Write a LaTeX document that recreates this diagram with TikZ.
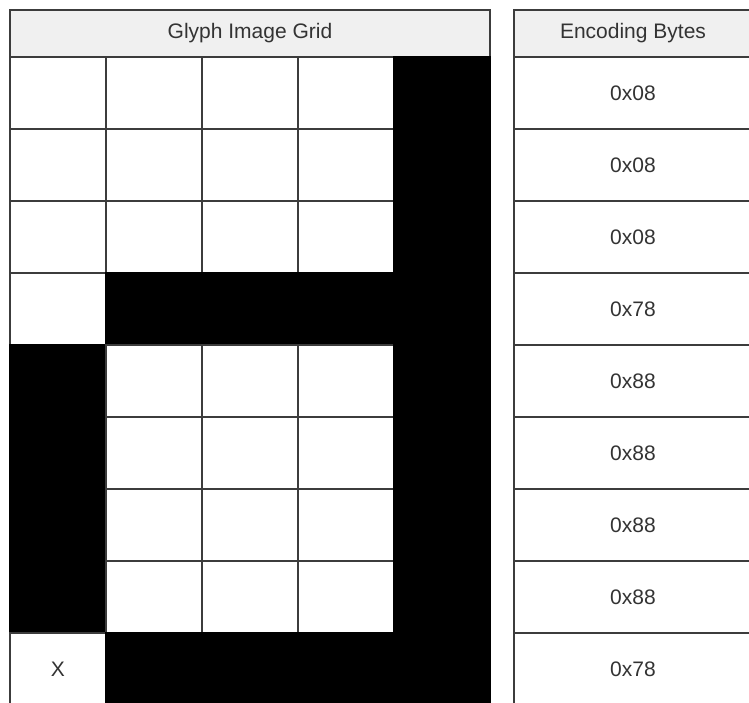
\documentclass[tikz,border=0pt]{standalone}
\usepackage{fontspec}
\setmainfont{Liberation Sans}
\definecolor{linec}{HTML}{3C3C3C}
\definecolor{headc}{HTML}{F0F0F0}
\definecolor{textc}{HTML}{333333}
\begin{document}
\begin{tikzpicture}[x=1pt,y=-1pt,
  cell/.style={draw=linec, line width=1.2pt, fill=white, minimum width=96pt, minimum height=72pt,
    inner sep=0pt, outer sep=0pt, anchor=north west, text=textc,
    font=\fontsize{21}{25}\selectfont},
  blackcell/.style={cell, fill=black, draw=black},
  hcell/.style={cell, fill=headc, minimum height=47pt},
  enccell/.style={cell, minimum width=238pt}]
\useasboundingbox (0,0) rectangle (749,702);
\clip (0,0) rectangle (749,702);
% headers
\node[hcell, minimum width=480pt] (gh) at (10,10) {Glyph Image Grid};
\node[hcell, minimum width=238pt] (eh) at (514,10) {Encoding Bytes};
% glyph grid
\foreach \r/\pat in {0/{0,0,0,0,1},1/{0,0,0,0,1},2/{0,0,0,0,1},3/{0,1,1,1,1},
                     4/{1,0,0,0,1},5/{1,0,0,0,1},6/{1,0,0,0,1},7/{1,0,0,0,1},8/{2,1,1,1,1}}{
  \foreach \v [count=\cc from 0] in \pat {
    \ifnum\v=1
      \node[blackcell] (g-\r-\cc) at ({10+96*\cc},{57+72*\r}) {};
    \else\ifnum\v=2
      \node[cell] (g-\r-\cc) at ({10+96*\cc},{57+72*\r}) {X};
    \else
      \node[cell] (g-\r-\cc) at ({10+96*\cc},{57+72*\r}) {};
    \fi\fi
  }
}
% encoding bytes
\foreach \val [count=\r from 0] in {0x08,0x08,0x08,0x78,0x88,0x88,0x88,0x88,0x78}{
  \node[enccell] (e-\r) at (514,{57+72*\r}) {\val};
}
\end{tikzpicture}
\end{document}
